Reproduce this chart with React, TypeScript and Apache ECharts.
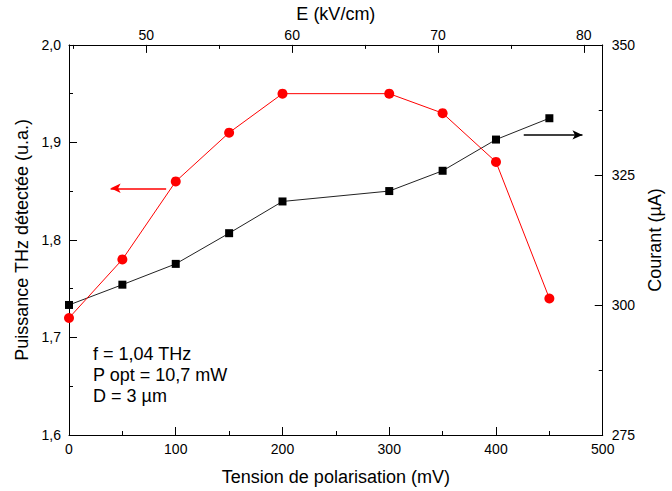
import React, { useEffect, useRef } from "react";
import * as echarts from "echarts";

// Bias voltage (mV) of each measurement
const voltages = [0, 50, 100, 150, 200, 300, 350, 400, 450];
// Detected THz power (a.u.) – left axis, red circles
const powerValues = [1.72, 1.78, 1.86, 1.91, 1.95, 1.95, 1.93, 1.88, 1.74];
// Current (µA) – right axis, black squares
const currentValues = [300.0, 303.9, 307.9, 313.8, 319.9, 321.9, 325.8, 331.8, 335.9];

// Top axis (field, kV/cm) range matching 0–500 mV
const fieldMin = 44.7;
const fieldMax = 81.3;
const fieldLabels = [50, 60, 70, 80];
const fieldMinorTicks = [45, 55, 65, 75];

// Arrow annotations (data coordinates)
const powerArrow = { from: [91, 1.853], to: [39, 1.853] };
const currentArrow = { from: [426, 332.7], to: [481, 332.7] };

const noteLines = ["f = 1,04 THz", "P opt = 10,7 mW", "D = 3 µm"];

const FONT = "'Liberation Sans', Arial, Helvetica, sans-serif";

export default function App() {
  const ref = useRef<HTMLDivElement>(null);

  useEffect(() => {
    if (!ref.current) return;
    const chart = echarts.init(ref.current, null, { renderer: "svg" });
    const axisLine = { show: true, lineStyle: { color: "#000", width: 1 } };
    const label = { color: "#000", fontSize: 14, fontFamily: FONT };
    const nameStyle = { color: "#000", fontSize: 18, fontFamily: FONT };

    chart.setOption({
      animation: false,
      backgroundColor: "#fff",
      grid: { left: 69, right: 58, top: 44, bottom: 56, containLabel: false },
      xAxis: [
        {
          type: "value",
          position: "bottom",
          min: 0,
          max: 500,
          interval: 100,
          axisLine,
          axisTick: { show: true, inside: true, length: 8, lineStyle: { color: "#000" } },
          minorTick: { show: true, splitNumber: 2, length: 4, lineStyle: { color: "#000" } },
          axisLabel: { ...label, margin: 7 },
          splitLine: { show: false },
          name: "Tension de polarisation (mV)",
          nameLocation: "middle",
          nameGap: 33,
          nameTextStyle: nameStyle,
        },
        {
          type: "value",
          position: "top",
          min: fieldMin,
          max: fieldMax,
          axisLine,
          axisTick: { show: true, inside: true, length: 8, customValues: fieldLabels, lineStyle: { color: "#000" } },
          axisLabel: { ...label, margin: 3, customValues: fieldLabels },
          splitLine: { show: false },
          name: "E (kV/cm)",
          nameLocation: "middle",
          nameGap: 16,
          nameTextStyle: nameStyle,
        },
        {
          type: "value",
          position: "top",
          min: fieldMin,
          max: fieldMax,
          axisLine: { show: false },
          axisTick: { show: true, inside: true, length: 4, customValues: fieldMinorTicks, lineStyle: { color: "#000" } },
          axisLabel: { show: false },
          splitLine: { show: false },
        },
      ],
      yAxis: [
        {
          type: "value",
          position: "left",
          min: 1.6,
          max: 2.0,
          interval: 0.1,
          axisLine,
          axisTick: { show: true, inside: true, length: 8, lineStyle: { color: "#000" } },
          minorTick: { show: true, splitNumber: 2, length: 4, lineStyle: { color: "#000" } },
          axisLabel: {
            ...label,
            margin: 8,
            formatter: (v: number) => v.toFixed(1).replace(".", ","),
          },
          splitLine: { show: false },
          name: "Puissance THz détectée (u.a.)",
          nameLocation: "middle",
          nameGap: 38,
          nameTextStyle: nameStyle,
        },
        {
          type: "value",
          position: "right",
          min: 275,
          max: 350,
          interval: 25,
          axisLine,
          axisTick: { show: true, inside: true, length: 8, lineStyle: { color: "#000" } },
          minorTick: { show: true, splitNumber: 2, length: 4, lineStyle: { color: "#000" } },
          axisLabel: { ...label, margin: 9 },
          splitLine: { show: false },
          name: "Courant (µA)",
          nameLocation: "middle",
          nameRotate: 90,
          nameGap: 42,
          nameTextStyle: nameStyle,
        },
      ],
      series: [
        {
          type: "line",
          xAxisIndex: 0,
          yAxisIndex: 1,
          data: voltages.map((v, i) => [v, currentValues[i]]),
          symbol: "rect",
          symbolSize: 8,
          itemStyle: { color: "#000" },
          lineStyle: { color: "#222", width: 1 },
          markLine: {
            silent: true,
            symbol: ["none", "arrow"],
            symbolSize: [7, 10],
            label: { show: false },
            lineStyle: { color: "#000", width: 1.5, type: "solid" },
            data: [[{ coord: currentArrow.from }, { coord: currentArrow.to }]],
          },
          z: 2,
        },
        {
          type: "line",
          xAxisIndex: 0,
          yAxisIndex: 0,
          data: voltages.map((v, i) => [v, powerValues[i]]),
          symbol: "circle",
          symbolSize: 10,
          itemStyle: { color: "#ff0000" },
          lineStyle: { color: "#ff0000", width: 1 },
          markLine: {
            silent: true,
            symbol: ["none", "arrow"],
            symbolSize: [7, 10],
            label: { show: false },
            lineStyle: { color: "#ff0000", width: 1.5, type: "solid" },
            data: [[{ coord: powerArrow.from }, { coord: powerArrow.to }]],
          },
          z: 3,
        },
      ],
      graphic: [
        {
          type: "text",
          x: 93,
          y: 343,
          style: {
            text: noteLines.join("\n"),
            font: `18px ${FONT}`,
            lineHeight: 21,
            fill: "#000",
          },
        },
      ],
    });
    return () => chart.dispose();
  }, []);

  return (
    <div
      ref={ref}
      style={{ position: "fixed", left: 0, top: 0, width: 672, height: 491, background: "#fff" }}
    />
  );
}
